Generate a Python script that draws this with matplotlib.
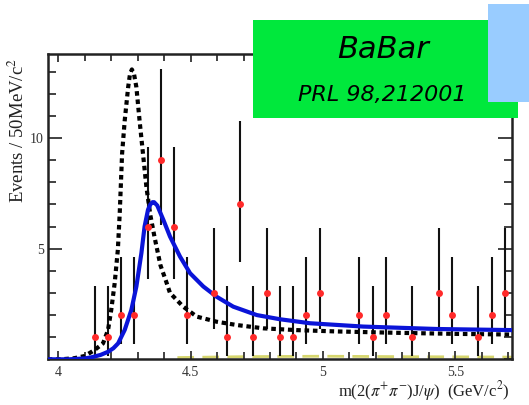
import matplotlib
matplotlib.use("Agg")
import matplotlib.pyplot as plt
from matplotlib.patches import Rectangle
from matplotlib.ticker import MultipleLocator, FixedLocator

# binned data (50 MeV bins), empty bins not drawn
bin_x = [4.1375, 4.1875, 4.2375, 4.2875, 4.3375, 4.3875, 4.4375, 4.4875,
         4.5875, 4.6375, 4.6875, 4.7375, 4.7875, 4.8375, 4.8875, 4.9375,
         4.9875, 5.1375, 5.1875, 5.2375, 5.3375, 5.4375, 5.4875, 5.5875,
         5.6375, 5.6875]
counts = [1, 1, 2, 2, 6, 9, 6, 2,
          3, 1, 7, 1, 3, 1, 1, 2,
          3, 2, 1, 2, 1, 3, 2, 1,
          2, 3]
err_lo = [0.83, 0.83, 1.29, 1.29, 2.38, 2.94, 2.38, 1.29,
          1.63, 0.83, 2.58, 0.83, 1.63, 0.83, 0.83, 1.29,
          1.63, 1.29, 0.83, 1.29, 0.83, 1.63, 1.29, 0.83,
          1.29, 1.63]
err_hi = [2.30, 2.30, 2.64, 2.64, 3.60, 4.11, 3.60, 2.64,
          2.92, 2.30, 3.77, 2.30, 2.92, 2.30, 2.30, 2.64,
          2.92, 2.64, 2.30, 2.64, 2.30, 2.92, 2.64, 2.30,
          2.64, 2.92]

# fit curves
dot_x = [3.96, 4.01, 4.06, 4.10, 4.137, 4.169, 4.188, 4.200, 4.213, 4.225,
         4.232, 4.241, 4.251, 4.264, 4.271, 4.278, 4.286, 4.295, 4.307, 4.320,
         4.333, 4.348, 4.364, 4.386, 4.408, 4.422, 4.472, 4.523, 4.598, 4.674,
         4.775, 4.90, 5.05, 5.27, 5.50, 5.715]
dot_y = [0.0, 0.0, 0.05, 0.15, 0.42, 0.72, 1.33, 2.23, 3.44, 4.95,
         6.57, 9.29, 10.8, 12.3, 12.9, 13.1, 12.9, 12.3, 10.8, 9.29,
         7.78, 6.5, 5.5, 4.25, 3.5, 3.0, 2.38, 1.93, 1.70, 1.55,
         1.40, 1.32, 1.26, 1.20, 1.15, 1.12]

fit_x = [3.96, 4.04, 4.10, 4.125, 4.16, 4.188, 4.208, 4.226, 4.251, 4.276,
         4.295, 4.314, 4.326, 4.339, 4.348, 4.356, 4.362, 4.374, 4.397, 4.422,
         4.460, 4.498, 4.548, 4.598, 4.661, 4.750, 4.838, 4.951, 5.152, 5.43,
         5.715]
fit_y = [0.0, 0.0, 0.04, 0.09, 0.2, 0.34, 0.5, 0.72, 1.33, 2.23,
         3.29, 4.80, 6.0, 6.76, 7.0, 7.1, 7.1, 6.95, 6.30, 5.55,
         4.64, 3.89, 3.29, 2.83, 2.38, 2.0, 1.81, 1.63, 1.48, 1.37,
         1.32]

bkg_x = [4.45, 4.70, 5.00, 5.30, 5.715]
bkg_y = [0.08, 0.12, 0.14, 0.12, 0.10]

plt.rcParams['font.family'] = ['Liberation Serif', 'DejaVu Serif']
plt.rcParams['mathtext.fontset'] = 'stix'

fig = plt.figure(figsize=(5.29, 4.05), dpi=100)
ax = fig.add_axes([0.0907, 0.1128, 0.877, 0.754])

ax.plot(bkg_x, bkg_y, color='#cfcf55', lw=2, dashes=(6, 3), alpha=0.85, zorder=1)
ax.errorbar(bin_x, counts, yerr=[err_lo, err_hi], fmt='none',
            ecolor='#111111', elinewidth=1.5, capsize=0, zorder=2)
ax.plot(dot_x, dot_y, color='black', lw=3, dashes=(1.1, 0.9), zorder=3)
ax.plot(fit_x, fit_y, color='#0a14d8', lw=3, zorder=4)
ax.plot(bin_x, counts, 'o', color='#ff2a2a', ms=5, mec='none', zorder=5)

ax.set_xlim(3.961, 5.714)
ax.set_ylim(0, 13.8)
ax.xaxis.set_major_locator(FixedLocator([4, 4.5, 5, 5.5]))
ax.set_xticklabels(['4', '4.5', '5', '5.5'])
ax.xaxis.set_minor_locator(MultipleLocator(0.1))
ax.yaxis.set_major_locator(FixedLocator([5, 10]))
ax.yaxis.set_minor_locator(MultipleLocator(1))
ax.tick_params(which='both', direction='in', top=True, right=True,
               labelsize=10, labelcolor='#333333', color='#333333', width=1.3)
ax.tick_params(axis='y', which='major', length=10, pad=3)
ax.tick_params(axis='y', which='minor', length=6)
ax.tick_params(axis='x', which='major', length=6, pad=5)
ax.tick_params(axis='x', which='minor', length=5)
for sp in ax.spines.values():
    sp.set_linewidth(1.8)
    sp.set_color('#222222')

fig.text(0.034, 0.677, 'Events / 50MeV/c$^2$', rotation=90,
         ha='center', va='center', fontsize=13.5, color='#222222')
fig.text(0.964, 0.035, r'm(2($\pi^{+}\pi^{-}$)J/$\psi$)  (GeV/c$^{2}$)',
         ha='right', va='center', fontsize=12, color='#222222')

# label boxes
fig.patches.append(Rectangle((0.478, 0.7086), 0.501, 0.242, transform=fig.transFigure,
                             facecolor='#00e83c', edgecolor='none', zorder=5))
fig.patches.append(Rectangle((0.9225, 0.748), 0.08, 0.242, transform=fig.transFigure,
                             facecolor='#99ccff', edgecolor='none', zorder=6))
fig.text(0.724, 0.877, 'BaBar', family='DejaVu Sans', style='italic',
         fontsize=22, ha='center', va='center', zorder=7)
fig.text(0.722, 0.765, 'PRL 98,212001', family='DejaVu Sans', style='italic',
         fontsize=16, ha='center', va='center', zorder=7)

fig.savefig('out.png', dpi=100)
